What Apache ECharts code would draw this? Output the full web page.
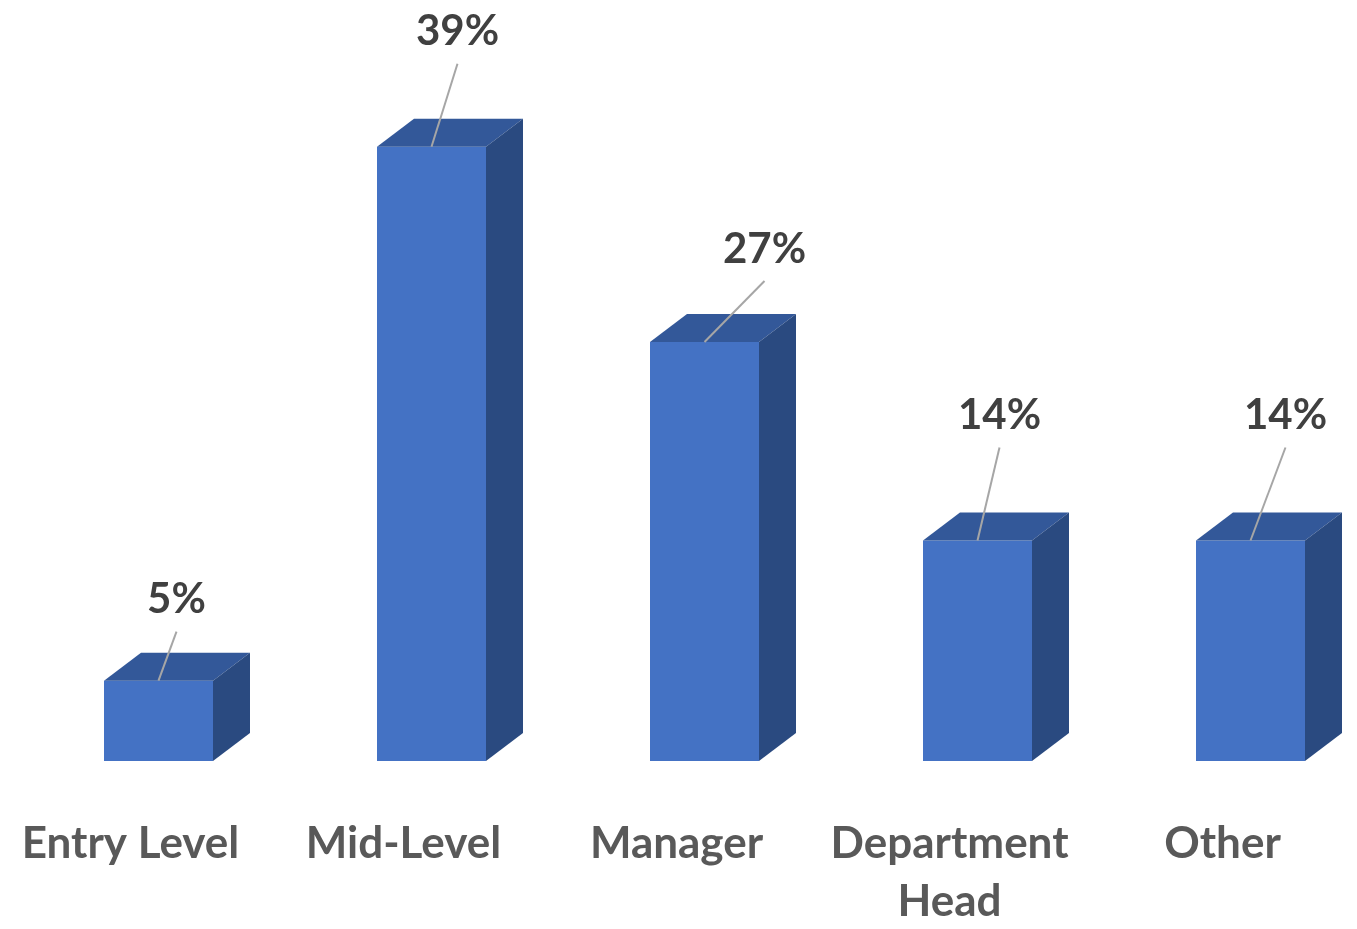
<!DOCTYPE html>
<html>
<head>
<meta charset="utf-8">
<script src="https://cdn.jsdelivr.net/npm/echarts@6/dist/echarts.min.js"></script>
<style>html,body{margin:0;padding:0;background:#fff;}#c{width:1357px;height:929px;}</style>
</head>
<body>
<div id="c"></div>
<script>
const categories = ['Entry Level', 'Mid-Level', 'Manager', 'Department Head', 'Other'];
const values = [5.1, 39, 26.6, 14, 14];
// styling: label offset from the top-front centre of each bar (px)
const labelOffsets = [[18, -81], [26, -115], [60, -93], [22, -125], [35, -125]];

const FONT = 'Lato, "Open Sans", sans-serif';
const chart = echarts.init(document.getElementById('c'));
chart.setOption({
  backgroundColor: '#fff',
  animation: false,
  grid: { left: -6, width: 1365, top: 131, bottom: 168, containLabel: false, outerBoundsMode: 'none' },
  xAxis: {
    type: 'category',
    data: categories,
    axisLine: { show: false },
    axisTick: { show: false },
    axisLabel: {
      margin: 54,
      interval: 0,
      color: '#595959',
      fontFamily: FONT,
      fontWeight: 'bold',
      fontSize: 44,
      lineHeight: 58,
      formatter: v => v.replace(' Head', '\nHead')
    }
  },
  yAxis: { type: 'value', min: 0, max: 40, show: false, splitLine: { show: false } },
  series: [{
    type: 'custom',
    data: values.map((v, i) => [i, v]),
    renderItem(params, api) {
      const i = api.value(0), v = api.value(1);
      const base = api.coord([i, 0]);
      const top = api.coord([i, v]);
      const w = 109, dx = 37, dy = 28;
      const cx = base[0] + 28;
      const l = cx - w / 2, r = cx + w / 2;
      const y0 = base[1], y1 = top[1];
      const off = labelOffsets[i];
      const lx = cx + off[0], ly = y1 + off[1];
      return {
        type: 'group',
        children: [
          { type: 'rect', shape: { x: l, y: y1, width: w, height: y0 - y1 }, style: { fill: '#4472c4' } },
          { type: 'polygon', shape: { points: [[l, y1], [l + dx, y1 - dy], [r + dx, y1 - dy], [r, y1]] }, style: { fill: '#335899' } },
          { type: 'polygon', shape: { points: [[r, y1], [r + dx, y1 - dy], [r + dx, y0 - dy], [r, y0]] }, style: { fill: '#2a4a80' } },
          { type: 'line', shape: { x1: lx, y1: ly + 32, x2: cx, y2: y1 }, style: { stroke: '#a6a6a6', lineWidth: 2 } },
          { type: 'text', style: { text: Math.round(v) + '%', x: lx, y: ly, align: 'center', verticalAlign: 'middle', font: 'bold 42px ' + FONT, fill: '#404040' } }
        ]
      };
    }
  }]
});
</script>
</body>
</html>
